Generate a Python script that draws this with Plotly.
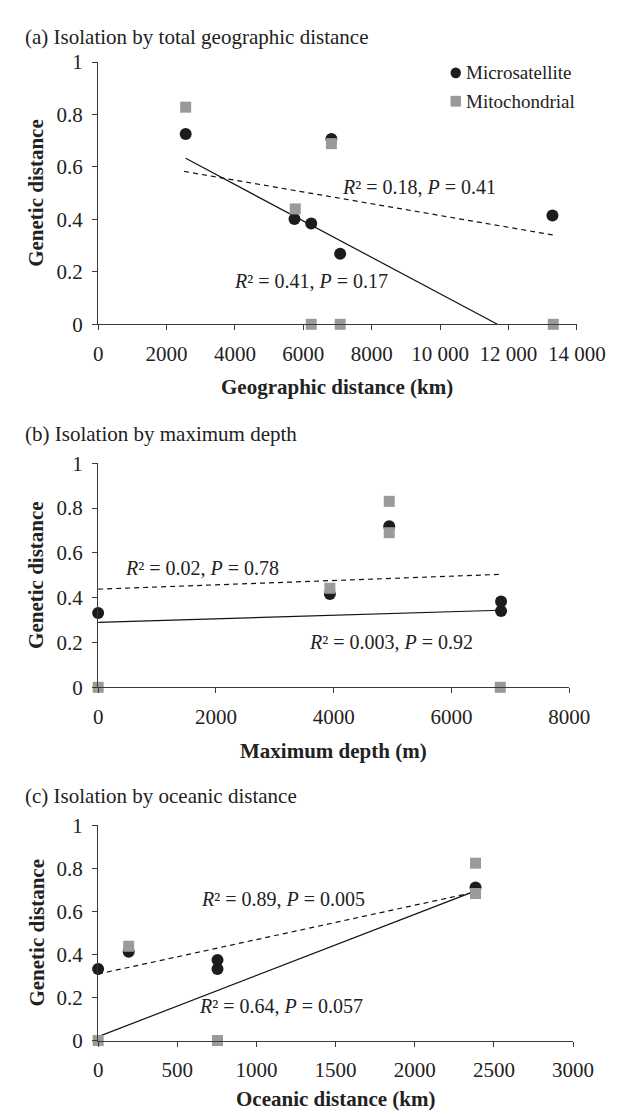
import plotly.graph_objects as go

W, H = 630, 1114

# ---------------- data ----------------
# Panel (a): isolation by total geographic distance
geo_micro_x = [2560, 5742, 6232, 6822, 7078, 13287]
geo_micro_y = [0.726, 0.402, 0.384, 0.707, 0.269, 0.415]
geo_mito_x = [2560, 5765, 6822, 6232, 7078, 13310]
geo_mito_y = [0.828, 0.440, 0.689, 0.0, 0.0, 0.0]
geo_micro_fit_x = [2515, 13332]
geo_micro_fit_y = [0.583, 0.340]
geo_mito_fit_x = [2560, 11676]
geo_mito_fit_y = [0.633, 0.0]
geo_ticks = [0, 2000, 4000, 6000, 8000, 10000, 12000, 14000]
geo_ticktext = ["0", "2000", "4000", "6000", "8000", "10 000", "12 000", "14 000"]

# Panel (b): isolation by maximum depth
depth_micro_x = [0, 3935, 4943, 6842, 6842]
depth_micro_y = [0.332, 0.416, 0.719, 0.383, 0.341]
depth_mito_x = [0, 3935, 4943, 4943, 6829]
depth_mito_y = [0.0, 0.442, 0.830, 0.690, 0.0]
depth_micro_fit_x = [0, 6829]
depth_micro_fit_y = [0.438, 0.504]
depth_mito_fit_x = [0, 6829]
depth_mito_fit_y = [0.290, 0.344]
depth_ticks = [0, 2000, 4000, 6000, 8000]
depth_ticktext = ["0", "2000", "4000", "6000", "8000"]

# Panel (c): isolation by oceanic distance
ocean_micro_x = [0, 193, 754, 754, 2384]
ocean_micro_y = [0.332, 0.412, 0.374, 0.332, 0.711]
ocean_mito_x = [0, 193, 754, 2384, 2384]
ocean_mito_y = [0.0, 0.438, 0.0, 0.824, 0.683]
ocean_micro_fit_x = [0, 2384]
ocean_micro_fit_y = [0.309, 0.690]
ocean_mito_fit_x = [0, 2384]
ocean_mito_fit_y = [0.018, 0.695]
ocean_ticks = [0, 500, 1000, 1500, 2000, 2500, 3000]
ocean_ticktext = ["0", "500", "1000", "1500", "2000", "2500", "3000"]

y_ticks = [0, 0.2, 0.4, 0.6, 0.8, 1]
y_ticktext = ["0", "0.2", "0.4", "0.6", "0.8", "1"]

legend_labels = ["Microsatellite", "Mitochondrial"]

# regression statistics: (R squared, P)
stats_a = [("0.18", "0.41"), ("0.41", "0.17")]
stats_b = [("0.02", "0.78"), ("0.003", "0.92")]
stats_c = [("0.89", "0.005"), ("0.64", "0.057")]

# ---------------- styling ----------------
FONT = "Liberation Serif, Times New Roman, serif"
TEXT_COLOR = "#222222"
MICRO_COLOR = "#1e1b1c"
MITO_COLOR = "#9a9a9a"
AXIS_COLOR = "#3a3a3a"
MARKER_SIZE = 12


def px(x):
    return x / W


def py(y):
    return 1 - y / H


fig = go.Figure()

panels = [
    dict(xa="x", ya="y",
         mx=geo_micro_x, my=geo_micro_y, tx=geo_mito_x, ty=geo_mito_y,
         fmx=geo_micro_fit_x, fmy=geo_micro_fit_y, ftx=geo_mito_fit_x, fty=geo_mito_fit_y),
    dict(xa="x2", ya="y2",
         mx=depth_micro_x, my=depth_micro_y, tx=depth_mito_x, ty=depth_mito_y,
         fmx=depth_micro_fit_x, fmy=depth_micro_fit_y, ftx=depth_mito_fit_x, fty=depth_mito_fit_y),
    dict(xa="x3", ya="y3",
         mx=ocean_micro_x, my=ocean_micro_y, tx=ocean_mito_x, ty=ocean_mito_y,
         fmx=ocean_micro_fit_x, fmy=ocean_micro_fit_y, ftx=ocean_mito_fit_x, fty=ocean_mito_fit_y),
]

for p in panels:
    # fitted lines
    fig.add_trace(go.Scatter(x=p["fmx"], y=p["fmy"], mode="lines", xaxis=p["xa"], yaxis=p["ya"],
                             line=dict(color="#111111", width=1.2, dash="5px,4px"),
                             showlegend=False, hoverinfo="skip"))
    fig.add_trace(go.Scatter(x=p["ftx"], y=p["fty"], mode="lines", xaxis=p["xa"], yaxis=p["ya"],
                             line=dict(color="#111111", width=1.2),
                             showlegend=False, hoverinfo="skip"))
    # points
    fig.add_trace(go.Scatter(x=p["mx"], y=p["my"], mode="markers", xaxis=p["xa"], yaxis=p["ya"],
                             name=legend_labels[0], cliponaxis=False,
                             marker=dict(symbol="circle", size=MARKER_SIZE, color=MICRO_COLOR),
                             showlegend=False))
    fig.add_trace(go.Scatter(x=p["tx"], y=p["ty"], mode="markers", xaxis=p["xa"], yaxis=p["ya"],
                             name=legend_labels[1], cliponaxis=False,
                             marker=dict(symbol="square", size=MARKER_SIZE - 1, color=MITO_COLOR),
                             showlegend=False))

common_x = dict(showline=True, linecolor=AXIS_COLOR, linewidth=1.2, ticks="outside", ticklen=5,
                tickcolor=AXIS_COLOR, tickwidth=1.2, showgrid=False, zeroline=False,
                tickfont=dict(family=FONT, size=21, color=TEXT_COLOR), ticklabelstandoff=5)
common_y = dict(showline=True, linecolor=AXIS_COLOR, linewidth=1.2, ticks="outside", ticklen=5,
                tickcolor=AXIS_COLOR, tickwidth=1.2, showgrid=False, zeroline=False,
                range=[0, 1], tickvals=y_ticks, ticktext=y_ticktext,
                tickfont=dict(family=FONT, size=21, color=TEXT_COLOR), ticklabelstandoff=5)

fig.update_layout(
    width=W, height=H, margin=dict(l=0, r=0, t=0, b=0),
    paper_bgcolor="white", plot_bgcolor="white",
    font=dict(family=FONT, color=TEXT_COLOR),
    showlegend=False,
    xaxis=dict(common_x, domain=[px(90), px(596)], range=[0, 14000], tickvals=geo_ticks,
               ticktext=geo_ticktext, anchor="y"),
    yaxis=dict(common_y, domain=[py(311), py(43)], anchor="x"),
    xaxis2=dict(common_x, domain=[px(90), px(588)], range=[0, 8000], tickvals=depth_ticks,
                ticktext=depth_ticktext, anchor="y2"),
    yaxis2=dict(common_y, domain=[py(682), py(453)], anchor="x2"),
    xaxis3=dict(common_x, domain=[px(90), px(592)], range=[0, 3000], tickvals=ocean_ticks,
                ticktext=ocean_ticktext, anchor="y3"),
    yaxis3=dict(common_y, domain=[py(1043), py(823)], anchor="x3"),
)

ann = []


def text(x, y, s, size=19, angle=0, xanchor="center", bold=False):
    ann.append(dict(x=px(x), y=py(y), xref="paper", yref="paper", text=s,
                    showarrow=False, xanchor=xanchor, yanchor="middle", textangle=angle,
                    font=dict(family=FONT, size=size, color=TEXT_COLOR,
                              weight="bold" if bold else "normal")))


def stat(r2, p):
    return "<i>R</i>\u00b2 = %s, <i>P</i> = %s" % (r2, p)


# panel titles
text(11, 17, "(a) Isolation by total geographic distance", 21, xanchor="left")
text(11, 423, "(b) Isolation by maximum depth", 21, xanchor="left")
text(11, 793, "(c) Isolation by oceanic distance", 21, xanchor="left")
# axis titles
for yc in [(43 + 311) / 2, (453 + 682) / 2, (823 + 1043) / 2]:
    text(25, yc, "Genetic distance", 21, angle=-90, bold=True)
text(343, 375, "Geographic distance (km)", 21, bold=True)
text(339, 747, "Maximum depth (m)", 21, bold=True)
text(341, 1103, "Oceanic distance (km)", 21, bold=True)
# regression statistics
text(429, 171, stat(*stats_a[0]), 20)
text(315, 267, stat(*stats_a[1]), 20)
text(200, 560, stat(*stats_b[0]), 20)
text(400, 636, stat(*stats_b[1]), 20)
text(285, 898, stat(*stats_c[0]), 20)
text(283, 1008, stat(*stats_c[1]), 20)

# legend (panel a)
r = 5.5
shapes = [
    dict(type="circle", xref="paper", yref="paper", x0=px(468 - r), x1=px(468 + r),
         y0=py(54 + r), y1=py(54 - r), fillcolor=MICRO_COLOR, line=dict(width=0)),
    dict(type="rect", xref="paper", yref="paper", x0=px(468 - r), x1=px(468 + r),
         y0=py(83 + r), y1=py(83 - r), fillcolor=MITO_COLOR, line=dict(width=0)),
]
text(477, 54, legend_labels[0], 19, xanchor="left")
text(477, 83, legend_labels[1], 19, xanchor="left")

fig.update_layout(annotations=ann, shapes=shapes)

fig.write_html("out.html")
